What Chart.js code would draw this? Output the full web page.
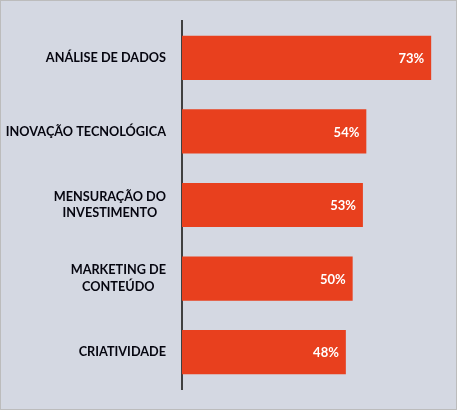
<!DOCTYPE html>
<html lang="pt-BR">
<head>
<meta charset="utf-8">
<title>Prioridades</title>
<script src="https://cdn.jsdelivr.net/npm/chart.js@4.4.1/dist/chart.umd.min.js"></script>
<style>
  body { margin: 0; background: #fff; }
  #wrap { position: absolute; left: 0; top: 0; width: 455px; height: 408px;
          border: 1px solid #bcbcbc; background: #d4d8e2; }
</style>
</head>
<body>
<div id="wrap"><canvas id="chart" width="455" height="408"></canvas></div>
<script>
// categories (multi-line labels) and values in %
var categories = [
  ['ANÁLISE DE DADOS'],
  ['INOVAÇÃO TECNOLÓGICA'],
  ['MENSURAÇÃO DO', 'INVESTIMENTO'],
  ['MARKETING DE', 'CONTEÚDO'],
  ['CRIATIVIDADE']
];
var values = [73, 54, 53, 50, 48];

var barColor = '#e8401e';
var labelFont = 'bold 12.7px Lato, "Open Sans", sans-serif';

// draws category labels (right-aligned block, centred lines) and value labels inside bars
var labelPlugin = {
  id: 'labels',
  afterDatasetsDraw: function(chart) {
    var ctx = chart.ctx;
    var yScale = chart.scales.y;
    var meta = chart.getDatasetMeta(0);
    ctx.save();
    ctx.font = labelFont;
    ctx.textBaseline = 'middle';
    categories.forEach(function(lines, i) {
      var y = yScale.getPixelForValue(i);
      var w = 0;
      lines.forEach(function(l) { w = Math.max(w, ctx.measureText(l).width); });
      var cx = 165 - w / 2;
      var lh = 16.5;
      ctx.fillStyle = '#05050f';
      ctx.textAlign = 'center';
      lines.forEach(function(l, k) {
        ctx.fillText(l, cx, y + (k - (lines.length - 1) / 2) * lh);
      });
      var bar = meta.data[i];
      ctx.fillStyle = '#ffffff';
      ctx.textAlign = 'right';
      ctx.font = 'bold 13px Lato, "Open Sans", sans-serif';
      ctx.fillText(values[i] + '%', bar.x - 7, y + 1);
      ctx.font = labelFont;
    });
    ctx.restore();
  }
};

new Chart(document.getElementById('chart'), {
  type: 'bar',
  data: {
    labels: categories,
    datasets: [{
      data: values,
      backgroundColor: barColor,
      borderWidth: 0,
      categoryPercentage: 1,
      barPercentage: 0.6
    }]
  },
  options: {
    indexAxis: 'y',
    responsive: false,
    animation: false,
    layout: { padding: { left: 173, right: 18, top: 20, bottom: 20 } },
    plugins: { legend: { display: false }, tooltip: { enabled: false } },
    scales: {
      x: { display: false, min: 0, max: 75 },
      y: {
        display: true,
        ticks: { display: false },
        grid: { display: false },
        border: { display: true, color: '#404040', width: 2 }
      }
    }
  },
  plugins: [labelPlugin]
});
</script>
</body>
</html>
